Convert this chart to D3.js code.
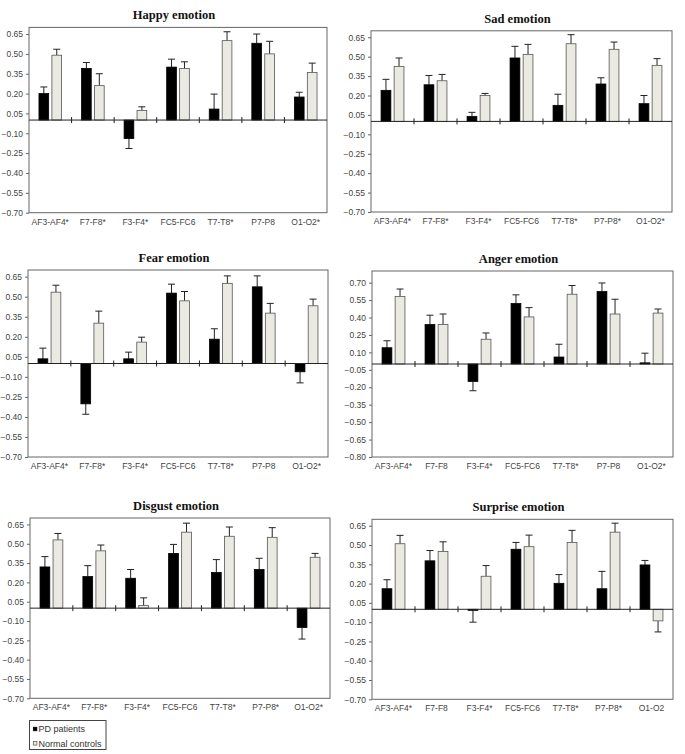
<!DOCTYPE html>
<html>
<head>
<meta charset="utf-8">
<script src="https://cdn.jsdelivr.net/npm/d3@7"></script>
<style>
  body { margin: 0; background: #fff; }
  svg { display: block; }
  .tick-label { font-family: "Liberation Sans", Arial, sans-serif; font-size: 8.5px; fill: #444; }
  .legend-label { font-family: "Liberation Sans", Arial, sans-serif; font-size: 9px; fill: #333; }
  .title { font-family: "Liberation Serif", "Times New Roman", serif; font-size: 12.5px; font-weight: bold; fill: #111; }
</style>
</head>
<body>
<svg width="685" height="754"></svg>
<script>
// groups shown in every panel
const groups = ["PD patients", "Normal controls"];

// y tick labels
const ticks65 = [-0.70, -0.55, -0.40, -0.25, -0.10, 0.05, 0.20, 0.35, 0.50, 0.65];
const ticks70 = [-0.80, -0.65, -0.50, -0.35, -0.20, -0.05, 0.10, 0.25, 0.40, 0.55, 0.70];

// Happy
const happyLabels = ["AF3-AF4*", "F7-F8*", "F3-F4*", "FC5-FC6", "T7-T8*", "P7-P8", "O1-O2*"];
const happyPD = [0.20, 0.39, -0.14, 0.40, 0.083, 0.58, 0.174];
const happyPDErr = [0.05, 0.045, 0.075, 0.06, 0.113, 0.07, 0.036];
const happyNC = [0.49, 0.26, 0.073, 0.39, 0.60, 0.50, 0.36];
const happyNCErr = [0.045, 0.09, 0.027, 0.05, 0.067, 0.095, 0.07];

// Sad
const sadLabels = ["AF3-AF4*", "F7-F8*", "F3-F4*", "FC5-FC6", "T7-T8*", "P7-P8*", "O1-O2*"];
const sadPD = [0.24, 0.283, 0.039, 0.49, 0.124, 0.289, 0.137];
const sadPDErr = [0.085, 0.072, 0.031, 0.09, 0.086, 0.048, 0.063];
const sadNC = [0.425, 0.314, 0.20, 0.518, 0.60, 0.557, 0.433];
const sadNCErr = [0.065, 0.049, 0.016, 0.077, 0.07, 0.056, 0.052];

// Fear
const fearLabels = ["AF3-AF4*", "F7-F8*", "F3-F4*", "FC5-FC6", "T7-T8*", "P7-P8", "O1-O2*"];
const fearPD = [0.035, -0.302, 0.035, 0.527, 0.182, 0.574, -0.062];
const fearPDErr = [0.08, 0.078, 0.05, 0.067, 0.078, 0.082, 0.083];
const fearNC = [0.534, 0.302, 0.16, 0.469, 0.60, 0.377, 0.432];
const fearNCErr = [0.052, 0.09, 0.037, 0.07, 0.056, 0.073, 0.05];

// Anger
const angerLabels = ["AF3-AF4*", "F7-F8", "F3-F4*", "FC5-FC6", "T7-T8*", "P7-P8", "O1-O2*"];
const angerPD = [0.14, 0.34, -0.15, 0.52, 0.06, 0.623, 0.01];
const angerPDErr = [0.06, 0.08, 0.08, 0.075, 0.11, 0.074, 0.083];
const angerNC = [0.58, 0.34, 0.213, 0.405, 0.60, 0.43, 0.438];
const angerNCErr = [0.065, 0.09, 0.054, 0.08, 0.075, 0.127, 0.035];

// Disgust
const disgustLabels = ["AF3-AF4*", "F7-F8*", "F3-F4*", "FC5-FC6", "T7-T8*", "P7-P8*", "O1-O2*"];
const disgustPD = [0.32, 0.245, 0.232, 0.425, 0.277, 0.30, -0.15];
const disgustPDErr = [0.08, 0.085, 0.068, 0.07, 0.10, 0.087, 0.09];
const disgustNC = [0.53, 0.445, 0.02, 0.59, 0.558, 0.55, 0.395];
const disgustNCErr = [0.05, 0.045, 0.06, 0.07, 0.072, 0.075, 0.03];

// Surprise
const surpriseLabels = ["AF3-AF4*", "F7-F8", "F3-F4*", "FC5-FC6", "T7-T8*", "P7-P8*", "O1-O2"];
const surprisePD = [0.16, 0.377, -0.008, 0.467, 0.202, 0.16, 0.345];
const surprisePDErr = [0.07, 0.08, 0.092, 0.053, 0.068, 0.135, 0.035];
const surpriseNC = [0.51, 0.45, 0.257, 0.487, 0.52, 0.60, -0.09];
const surpriseNCErr = [0.065, 0.075, 0.083, 0.09, 0.094, 0.07, 0.086];

const panels = [
  { title: "Happy emotion", labels: happyLabels, pd: happyPD, pdErr: happyPDErr, nc: happyNC, ncErr: happyNCErr, ticks: ticks65, dom: [-0.70, 0.70] },
  { title: "Sad emotion", labels: sadLabels, pd: sadPD, pdErr: sadPDErr, nc: sadNC, ncErr: sadNCErr, ticks: ticks65, dom: [-0.70, 0.70] },
  { title: "Fear emotion", labels: fearLabels, pd: fearPD, pdErr: fearPDErr, nc: fearNC, ncErr: fearNCErr, ticks: ticks65, dom: [-0.70, 0.70] },
  { title: "Anger emotion", labels: angerLabels, pd: angerPD, pdErr: angerPDErr, nc: angerNC, ncErr: angerNCErr, ticks: ticks70, dom: [-0.80, 0.80] },
  { title: "Disgust emotion", labels: disgustLabels, pd: disgustPD, pdErr: disgustPDErr, nc: disgustNC, ncErr: disgustNCErr, ticks: ticks65, dom: [-0.70, 0.70] },
  { title: "Surprise emotion", labels: surpriseLabels, pd: surprisePD, pdErr: surprisePDErr, nc: surpriseNC, ncErr: surpriseNCErr, ticks: ticks65, dom: [-0.70, 0.70] }
];

// plot box of each panel: left, right, top, bottom
const boxes = [
  [29, 327, 27.4, 212.7],
  [371, 672, 30.8, 212],
  [28, 328, 270, 457],
  [372, 673, 271, 457],
  [30, 330, 518, 698.3],
  [372, 673, 519.3, 699.3]
];

const fills = ["#000000", "#ebeae2"];
const svg = d3.select("svg");

panels.forEach(function(p, i) {
  const [left, right, top, bottom] = boxes[i];
  const g = svg.append("g");

  const y = d3.scaleLinear().domain(p.dom).range([bottom, top]);
  const x0 = d3.scaleBand().domain(p.labels).range([left, right]);
  const x1 = d3.scaleBand().domain(groups).range([0, x0.bandwidth()])
    .paddingInner(0.25).paddingOuter(0.77);

  // title
  g.append("text").attr("class", "title")
    .attr("x", (left + right) / 2 - 4).attr("y", top - 8)
    .attr("text-anchor", "middle")
    .text(p.title);

  // box
  g.append("rect")
    .attr("x", left).attr("y", top)
    .attr("width", right - left).attr("height", bottom - top)
    .attr("fill", "none").attr("stroke", "#666").attr("stroke-width", 1);

  // y axis
  const yAxis = d3.axisLeft(y).tickValues(p.ticks).tickFormat(d3.format(".2f")).tickSize(3).tickPadding(3);
  const ya = g.append("g").attr("transform", "translate(" + left + ",0)").call(yAxis);
  ya.select(".domain").remove();
  ya.selectAll("line").attr("stroke", "#666");
  ya.selectAll("text").attr("class", "tick-label").attr("font-size", null).attr("font-family", null);

  // x labels
  g.selectAll(".xl").data(p.labels).enter().append("text")
    .attr("class", "tick-label")
    .attr("x", d => x0(d) + x0.bandwidth() / 2)
    .attr("y", bottom + 12)
    .attr("text-anchor", "middle")
    .text(d => d);

  const rows = p.labels.map((lab, k) => [
    { lab: lab, grp: groups[0], v: p.pd[k], e: p.pdErr[k] },
    { lab: lab, grp: groups[1], v: p.nc[k], e: p.ncErr[k] }
  ]).flat();

  const cx = d => x0(d.lab) + x1(d.grp) + x1.bandwidth() / 2;
  const tipY = d => y(d.v >= 0 ? d.v + d.e : d.v - d.e);

  // error bars first so bars sit over them
  const eb = g.selectAll(".err").data(rows).enter().append("g");
  eb.append("line")
    .attr("x1", cx).attr("x2", cx)
    .attr("y1", d => y(d.v)).attr("y2", tipY)
    .attr("stroke", "#222").attr("stroke-width", 1);
  eb.append("line")
    .attr("x1", d => cx(d) - 3.5).attr("x2", d => cx(d) + 3.5)
    .attr("y1", tipY).attr("y2", tipY)
    .attr("stroke", "#222").attr("stroke-width", 1);

  // bars
  g.selectAll(".bar").data(rows).enter().append("rect")
    .attr("x", d => x0(d.lab) + x1(d.grp))
    .attr("width", x1.bandwidth())
    .attr("y", d => y(Math.max(0, d.v)))
    .attr("height", d => Math.abs(y(d.v) - y(0)))
    .attr("fill", d => d.grp === groups[0] ? fills[0] : fills[1])
    .attr("stroke", d => d.grp === groups[0] ? "#000" : "#555")
    .attr("stroke-width", 0.8);

  // zero line with category separators
  g.append("line")
    .attr("x1", left).attr("x2", right)
    .attr("y1", y(0)).attr("y2", y(0))
    .attr("stroke", "#222").attr("stroke-width", 1);
  g.selectAll(".sep").data(p.labels.slice(1)).enter().append("line")
    .attr("x1", d => x0(d)).attr("x2", d => x0(d))
    .attr("y1", y(0) - 3).attr("y2", y(0) + 3)
    .attr("stroke", "#222").attr("stroke-width", 1);
});

// legend
const leg = svg.append("g");
leg.append("rect")
  .attr("x", 29.5).attr("y", 720.5).attr("width", 76.5).attr("height", 29)
  .attr("fill", "#fff").attr("stroke", "#444");
groups.forEach(function(gname, k) {
  const cy = 729 + k * 14.3;
  leg.append("rect")
    .attr("x", 33.3).attr("y", cy - 1.8).attr("width", 3.6).attr("height", 3.6)
    .attr("fill", fills[k]).attr("stroke", k === 0 ? "#000" : "#555").attr("stroke-width", 0.7);
  leg.append("text").attr("class", "legend-label")
    .attr("x", 38.5).attr("y", cy + 3.2)
    .text(gname);
});
</script>
</body>
</html>
